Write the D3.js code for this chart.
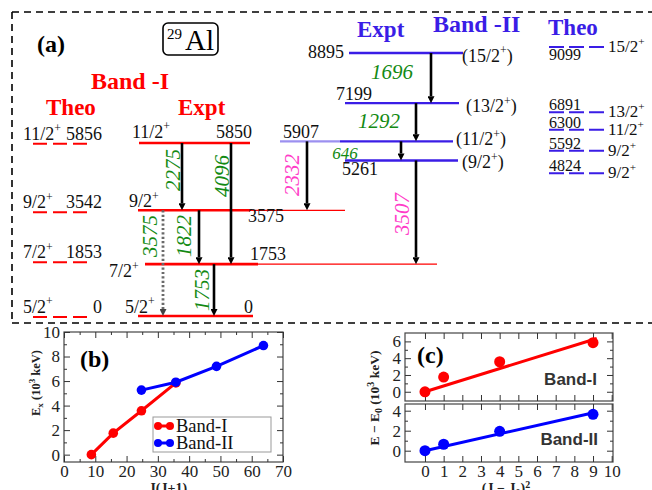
<!DOCTYPE html>
<html>
<head>
<meta charset="utf-8">
<script src="https://cdn.jsdelivr.net/npm/d3@7"></script>
<style>
  body { margin: 0; background: #fff; }
  svg { display: block; }
</style>
</head>
<body>
<svg id="chart" width="652" height="490"></svg>
<script>
// ---------- 29Al level data (keV) ----------
const exptBandI = [0, 1753, 3575, 5850];
const exptSpinsI = ["5/2+", "7/2+", "9/2+", "11/2+"];
const exptBandII = [5261, 5907, 7199, 8895];
const exptSpinsII = ["(9/2+)", "(11/2+)", "(13/2+)", "(15/2+)"];
const theoBandI = [0, 1853, 3542, 5856];
const theoSpinsI = ["5/2+", "7/2+", "9/2+", "11/2+"];
const theoBandII = [4824, 5592, 6300, 6891, 9099];
const theoSpinsII = ["9/2+", "9/2+", "11/2+", "13/2+", "15/2+"];

// gamma transitions: initial level, final level, label, kind
const gammaFrom = [5850, 5850, 3575, 1753, 3575, 5907, 5261, 8895, 7199, 5907];
const gammaTo = [3575, 1753, 1753, 0, 0, 3575, 1753, 7199, 5907, 5261];
const gammaLabels = ["2275", "4096", "1822", "1753", "3575", "2332", "3507", "1696", "1292", "646"];
const gammaKinds = ["band", "band", "band", "band", "dotted", "inter", "inter", "band", "band", "band"];

// ---------- (b) Ex vs J(J+1) ----------
const jjBandI = [8.75, 15.75, 24.75, 35.75];
const exBandI = [0, 1.753, 3.575, 5.850];
const jjBandII = [24.75, 35.75, 48.75, 63.75];
const exBandII = [5.261, 5.907, 7.199, 8.895];

// ---------- (c) E - E0 vs (J - J0)^2 ----------
const dJ2 = [0, 1, 4, 9];
const dEBandI = [0, 1.753, 3.575, 5.850];
const dEBandII = [0, 0.646, 1.938, 3.634];
const fitSlopeI = 0.69;
const fitSlopeII = 0.42;
const fitEnd = 9.2;

// ---------- styling ----------
const SERIF = '"Liberation Serif", "Times New Roman", "DejaVu Serif", serif';
const SANS = '"Liberation Sans", Arial, sans-serif';
const RED = "#ff0000", BLUE = "#3a1de6", LIGHTBLUE = "#9c90f0",
      GREEN = "#138a13", MAGENTA = "#ff3cc8";
const LV = 18;   // level label size
const LV2 = 16;  // packed theory column on the right

const svg = d3.select("#chart");
const defs = svg.append("defs");
function arrowMarker(id, color) {
  defs.append("marker").attr("id", id)
    .attr("markerUnits", "userSpaceOnUse")
    .attr("markerWidth", 8).attr("markerHeight", 7)
    .attr("refX", 0).attr("refY", 3.5).attr("orient", "auto")
    .append("path").attr("d", "M0,0 L7,3.5 L0,7 Z").attr("fill", color);
}
arrowMarker("arrBlack", "#000");
arrowMarker("arrGray", "#444");

// spin label with superscript "+"
function spinText(g, label, x, y, anchor, size, color) {
  const t = g.append("text").attr("x", x).attr("y", y)
    .attr("text-anchor", anchor).attr("font-size", size).attr("fill", color || "#111");
  const i = label.indexOf("+");
  t.append("tspan").text(label.slice(0, i));
  t.append("tspan").text("+").attr("font-size", size * 0.66).attr("dy", -size * 0.42);
  if (i + 1 < label.length) t.append("tspan").text(label.slice(i + 1)).attr("dy", size * 0.42);
  return t;
}

// ---------- dashed frame around (a) ----------
const frame = svg.append("g").attr("stroke", "#000").attr("stroke-width", 1.6)
  .attr("stroke-dasharray", "7,5").attr("fill", "none");
frame.append("line").attr("x1", 12).attr("y1", 12).attr("x2", 652).attr("y2", 12);
frame.append("line").attr("x1", 12).attr("y1", 12).attr("x2", 12).attr("y2", 323);
frame.append("line").attr("x1", 12).attr("y1", 323).attr("x2", 652).attr("y2", 323);

// ---------- (a) level scheme ----------
const yE = d3.scaleLinear().domain([0, 8895]).range([316, 53]);
const a = svg.append("g");

a.append("text").attr("x", 37).attr("y", 52).attr("font-size", 24).attr("font-weight", "bold").text("(a)");
a.append("rect").attr("x", 163).attr("y", 23).attr("width", 55).attr("height", 32)
  .attr("rx", 5).attr("fill", "none").attr("stroke", "#000").attr("stroke-width", 1.6);
a.append("text").attr("x", 167).attr("y", 39).attr("font-size", 15).text("29");
a.append("text").attr("x", 185).attr("y", 50).attr("font-size", 29).text("Al");

const hdr = (x, y, s, c, t) => a.append("text").attr("x", x).attr("y", y)
  .attr("font-size", s).attr("font-weight", "bold").attr("fill", c).text(t);
hdr(91, 89, 24, RED, "Band -I");
hdr(46, 115, 23, RED, "Theo");
hdr(178, 115, 23, RED, "Expt");
hdr(433, 32, 24, BLUE, "Band -II");
hdr(357, 37, 23, BLUE, "Expt");
hdr(548, 35, 23, BLUE, "Theo");

// Theo Band-I
theoBandI.forEach((e, i) => {
  const y = yE(e);
  a.append("line").attr("x1", 33).attr("x2", 87).attr("y1", y + 1).attr("y2", y + 1)
    .attr("stroke", RED).attr("stroke-width", 2).attr("stroke-dasharray", "14,6");
  spinText(a, theoSpinsI[i], 23, y - 3, "start", LV);
  a.append("text").attr("x", 102).attr("y", y - 3).attr("text-anchor", "end")
    .attr("font-size", LV).attr("fill", "#111").text(e);
});

// Theo Band-II
theoBandII.forEach((e, i) => {
  const y = yE(e);
  a.append("line").attr("x1", 549).attr("x2", 604).attr("y1", y).attr("y2", y)
    .attr("stroke", BLUE).attr("stroke-width", 2).attr("stroke-dasharray", "15,5");
  const top = i === theoBandII.length - 1;
  a.append("text").attr("x", 549).attr("y", top ? y + 13 : y - 2)
    .attr("font-size", LV2).attr("fill", "#111").text(e);
  spinText(a, theoSpinsII[i], 608, y + 5, "start", LV2 + 1);
});

// Expt Band-I levels
const bandIShape = [
  { x0: 138, x1: 253, spin: [125, -3, "start"], en: [253, -3, "end"] },
  { x0: 145, x1: 258, ext: 437, spin: [109, 13, "start"], en: [250, -4, "start"] },
  { x0: 138, x1: 250, ext: 345, spin: [129, -3, "start"], en: [248, 12, "start"] },
  { x0: 139, x1: 250, spin: [132, -5, "start"], en: [252, -5, "end"] }
];
exptBandI.forEach((e, i) => {
  const y = yE(e), s = bandIShape[i];
  if (s.ext) a.append("line").attr("x1", s.x1).attr("x2", s.ext).attr("y1", y).attr("y2", y)
    .attr("stroke", RED).attr("stroke-width", 1.3);
  a.append("line").attr("x1", s.x0).attr("x2", s.x1).attr("y1", y).attr("y2", y)
    .attr("stroke", RED).attr("stroke-width", 2.6);
  spinText(a, exptSpinsI[i], s.spin[0], y + s.spin[1], s.spin[2], LV);
  a.append("text").attr("x", s.en[0]).attr("y", y + s.en[1]).attr("text-anchor", s.en[2])
    .attr("font-size", LV).attr("fill", "#111").text(e);
});

// Expt Band-II levels
const bandIIShape = [
  { x0: 345, x1: 458, spin: [462, 8], en: [342, 15, "start"] },
  { x0: 280, x1: 453, light: 340, spin: [456, 4], en: [283, -3, "start"] },
  { x0: 345, x1: 459, spin: [466, 9], en: [336, -3, "start"] },
  { x0: 349, x1: 463, spin: [462, 9], en: [344, 5, "end"] }
];
exptBandII.forEach((e, i) => {
  const y = yE(e), s = bandIIShape[i];
  if (s.light) {
    a.append("line").attr("x1", s.x0).attr("x2", s.light).attr("y1", y).attr("y2", y)
      .attr("stroke", LIGHTBLUE).attr("stroke-width", 2.2);
    a.append("line").attr("x1", s.light).attr("x2", s.x1).attr("y1", y).attr("y2", y)
      .attr("stroke", BLUE).attr("stroke-width", 2.2);
  } else {
    a.append("line").attr("x1", s.x0).attr("x2", s.x1).attr("y1", y).attr("y2", y)
      .attr("stroke", BLUE).attr("stroke-width", 2.4);
  }
  spinText(a, exptSpinsII[i], s.spin[0], y + s.spin[1], "start", LV);
  a.append("text").attr("x", s.en[0]).attr("y", y + s.en[1]).attr("text-anchor", s.en[2])
    .attr("font-size", LV).attr("fill", "#111").text(e);
});

// gamma-ray arrows and their energy labels
const gammaLayout = [
  { x: 182, lx: 173, ly: 170, rot: true },
  { x: 231, lx: 222, ly: 176, rot: true },
  { x: 199, lx: 184, ly: 236, rot: true },
  { x: 214, lx: 202, ly: 290, rot: true },
  { x: 163, lx: 150, ly: 236, rot: true },
  { x: 307, lx: 292, ly: 175, rot: true },
  { x: 416, lx: 402, ly: 214, rot: true },
  { x: 431, lx: 392, ly: 79 },
  { x: 416, lx: 379, ly: 128 },
  { x: 401, lx: 345, ly: 159, small: true }
];
gammaFrom.forEach((ef, i) => {
  const L = gammaLayout[i], kind = gammaKinds[i];
  const y0 = yE(ef), y1 = yE(gammaTo[i]);
  const line = a.append("line").attr("x1", L.x).attr("x2", L.x)
    .attr("y1", y0).attr("y2", y1 - 7);
  if (kind === "dotted") {
    line.attr("stroke", "#6a6a6a").attr("stroke-width", 2.8)
      .attr("stroke-dasharray", "2.2,2.2").attr("marker-end", "url(#arrGray)");
  } else {
    line.attr("stroke", "#000").attr("stroke-width", 2.6).attr("marker-end", "url(#arrBlack)");
  }
  const color = kind === "inter" ? MAGENTA : GREEN;
  const size = L.small ? 17 : 21;
  const t = a.append("text").attr("font-size", size).attr("font-style", "italic")
    .attr("fill", color).attr("text-anchor", "middle").text(gammaLabels[i]);
  if (L.rot) {
    t.attr("transform", `translate(${L.lx},${L.ly}) rotate(-90)`).attr("dy", "0.35em");
  } else {
    t.attr("x", L.lx).attr("y", L.ly);
  }
});

// ---------- axis helpers ----------
function styleAxis(g) {
  g.select(".domain").remove();
  g.selectAll(".tick line").attr("stroke", "#333").attr("stroke-width", 1);
  g.selectAll(".tick text").attr("font-size", 17).attr("fill", "#222");
}
function frameAxes(g, x, y, xMajor, xMinor, yMajor, yMinor, showX) {
  const [x0, x1] = x.range(), [yb, yt] = y.range();
  g.append("rect").attr("x", x0).attr("y", yt).attr("width", x1 - x0).attr("height", yb - yt)
    .attr("fill", "none").attr("stroke", "#444").attr("stroke-width", 1.2);
  styleAxis(g.append("g").attr("transform", `translate(0,${yb})`)
    .call(d3.axisBottom(x).tickValues(xMajor).tickSizeInner(-6).tickSizeOuter(0).tickPadding(3)
      .tickFormat(showX ? d3.format("d") : "")));
  styleAxis(g.append("g").attr("transform", `translate(0,${yb})`)
    .call(d3.axisBottom(x).tickValues(xMinor).tickSizeInner(-3).tickSizeOuter(0).tickFormat("")));
  styleAxis(g.append("g").attr("transform", `translate(0,${yt})`)
    .call(d3.axisTop(x).tickValues(xMajor).tickSizeInner(-6).tickSizeOuter(0).tickFormat("")));
  styleAxis(g.append("g").attr("transform", `translate(0,${yt})`)
    .call(d3.axisTop(x).tickValues(xMinor).tickSizeInner(-3).tickSizeOuter(0).tickFormat("")));
  styleAxis(g.append("g").attr("transform", `translate(${x0},0)`)
    .call(d3.axisLeft(y).tickValues(yMajor).tickSizeInner(-6).tickSizeOuter(0).tickPadding(4)
      .tickFormat(d3.format("d"))));
  styleAxis(g.append("g").attr("transform", `translate(${x0},0)`)
    .call(d3.axisLeft(y).tickValues(yMinor).tickSizeInner(-3).tickSizeOuter(0).tickFormat("")));
  styleAxis(g.append("g").attr("transform", `translate(${x1},0)`)
    .call(d3.axisRight(y).tickValues(yMajor).tickSizeInner(-6).tickSizeOuter(0).tickFormat("")));
  styleAxis(g.append("g").attr("transform", `translate(${x1},0)`)
    .call(d3.axisRight(y).tickValues(yMinor).tickSizeInner(-3).tickSizeOuter(0).tickFormat("")));
}

// ---------- (b) ----------
const xB = d3.scaleLinear().domain([0, 70]).range([64, 283]);
const yB = d3.scaleLinear().domain([-0.6, 10]).range([462, 332]);
const b = svg.append("g");
frameAxes(b, xB, yB, d3.range(0, 71, 10), d3.range(5, 70, 10),
  d3.range(0, 11, 2), d3.range(1, 10, 2), true);

const lineB = d3.line().x(d => xB(d[0])).y(d => yB(d[1]));
[[jjBandI, exBandI, RED], [jjBandII, exBandII, "#0000ff"]].forEach(([xs, ys, c]) => {
  const pts = xs.map((v, i) => [v, ys[i]]);
  b.append("path").attr("d", lineB(pts)).attr("fill", "none").attr("stroke", c).attr("stroke-width", 3);
  b.selectAll(null).data(pts).enter().append("circle")
    .attr("cx", d => xB(d[0])).attr("cy", d => yB(d[1])).attr("r", 4.8).attr("fill", c);
});
b.append("text").attr("x", 80).attr("y", 367).attr("font-size", 24).attr("font-weight", "bold").text("(b)");

// legend
b.append("rect").attr("x", 153).attr("y", 417).attr("width", 118).attr("height", 35)
  .attr("fill", "#fff").attr("stroke", "#999").attr("stroke-width", 1);
[["Band-I", RED, 426], ["Band-II", "#0000ff", 443]].forEach(([lab, c, y]) => {
  b.append("line").attr("x1", 158).attr("x2", 170).attr("y1", y).attr("y2", y)
    .attr("stroke", c).attr("stroke-width", 3);
  b.append("circle").attr("cx", 158).attr("cy", y).attr("r", 4).attr("fill", c);
  b.append("circle").attr("cx", 170).attr("cy", y).attr("r", 4).attr("fill", c);
  b.append("text").attr("x", 176).attr("y", y + 6).attr("font-size", 18.5).attr("fill", "#111").text(lab);
});

// axis titles
const yTitleB = b.append("text").attr("transform", "translate(40,383) rotate(-90)")
  .attr("text-anchor", "middle").attr("font-size", 12.5).attr("font-weight", "bold").attr("fill", "#222");
yTitleB.append("tspan").text("E");
yTitleB.append("tspan").text("x").attr("font-size", 9).attr("dy", 3);
yTitleB.append("tspan").text(" (10").attr("dy", -3);
yTitleB.append("tspan").text("3").attr("font-size", 9).attr("dy", -5);
yTitleB.append("tspan").text(" keV)").attr("dy", 5);
b.append("text").attr("x", 168).attr("y", 493).attr("text-anchor", "middle")
  .attr("font-size", 14).attr("font-weight", "bold").attr("fill", "#222").text("J(J+1)");

// ---------- (c) ----------
const xC = d3.scaleLinear().domain([-1.07, 10.07]).range([405, 613]);
const yC1 = d3.scaleLinear().domain([-1.1, 7]).range([401, 333]);
const yC2 = d3.scaleLinear().domain([-1.13, 4.67]).range([462, 404]);
const c = svg.append("g");
frameAxes(c, xC, yC1, d3.range(0, 11), [], [0, 2, 4, 6], [1, 3, 5], false);
frameAxes(c, xC, yC2, d3.range(0, 11), [], [0, 2, 4], [1, 3], true);

[[yC1, dEBandI, fitSlopeI, RED], [yC2, dEBandII, fitSlopeII, "#0000ff"]].forEach(([ys, vals, k, col]) => {
  c.append("line").attr("x1", xC(0)).attr("y1", ys(0)).attr("x2", xC(fitEnd)).attr("y2", ys(k * fitEnd))
    .attr("stroke", col).attr("stroke-width", 3);
  c.selectAll(null).data(dJ2).enter().append("circle")
    .attr("cx", d => xC(d)).attr("cy", (d, i) => ys(vals[i])).attr("r", 5.5).attr("fill", col);
});
c.append("text").attr("x", 417).attr("y", 363).attr("font-size", 24).attr("font-weight", "bold").text("(c)");
c.append("text").attr("class", "sans").attr("x", 597).attr("y", 385).attr("text-anchor", "end")
  .attr("font-size", 17).attr("font-weight", "bold").attr("fill", "#333").text("Band-I");
c.append("text").attr("class", "sans").attr("x", 598).attr("y", 445).attr("text-anchor", "end")
  .attr("font-size", 17).attr("font-weight", "bold").attr("fill", "#333").text("Band-II");

const yTitleC = c.append("text").attr("transform", "translate(379,398) rotate(-90)")
  .attr("text-anchor", "middle").attr("font-size", 13.5).attr("font-weight", "bold").attr("fill", "#222");
yTitleC.append("tspan").text("E \u2212 E");
yTitleC.append("tspan").text("0").attr("font-size", 10).attr("dy", 3);
yTitleC.append("tspan").text(" (10").attr("dy", -3);
yTitleC.append("tspan").text("3").attr("font-size", 10).attr("dy", -5);
yTitleC.append("tspan").text(" keV)").attr("dy", 5);
const xTitleC = c.append("text").attr("x", 506).attr("y", 493).attr("text-anchor", "middle")
  .attr("font-size", 14).attr("font-weight", "bold").attr("fill", "#222");
xTitleC.append("tspan").text("(J \u2212 J");
xTitleC.append("tspan").text("0").attr("font-size", 10).attr("dy", 3);
xTitleC.append("tspan").text(")").attr("dy", -3);
xTitleC.append("tspan").text("2").attr("font-size", 10).attr("dy", -5);

// typeface for every label: serif throughout, sans for the band tags in (c)
svg.selectAll("text").style("font-family", SERIF);
svg.selectAll("text.sans").style("font-family", SANS);
</script>
</body>
</html>
